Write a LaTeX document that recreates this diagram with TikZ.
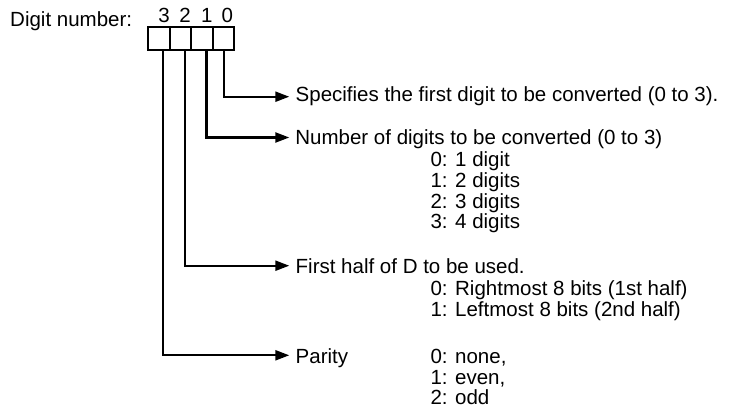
\documentclass[tikz,border=0pt]{standalone}
\usepackage{fontspec}
\setmainfont{Liberation Sans}
\usetikzlibrary{arrows.meta}
\begin{document}
\begin{tikzpicture}[x=1pt,y=-1pt,
  lbl/.style={font=\fontsize{20.5}{20.7}\selectfont, inner sep=0pt, anchor=base west},
  dig/.style={font=\fontsize{20.5}{20.7}\selectfont, inner sep=0pt, anchor=base},
  cell/.style={draw, line width=2pt, minimum width=21.5pt, minimum height=23.3pt, inner sep=0pt},
  conn/.style={line width=2.2pt, -{Triangle[length=14pt,width=10pt]}}]
\useasboundingbox (0,0) rectangle (736,409);
% title and digit numbers
\node[lbl] (title) at (10,26.3) {Digit number:};
\node[dig] (d3) at (164,22.7) {3};
\node[dig] (d2) at (185,22.7) {2};
\node[dig] (d1) at (206.7,22.7) {1};
\node[dig] (d0) at (227.3,22.7) {0};
% cells
\node[cell] (b3) at (159.05,38.35) {};
\node[cell] (b2) at (180.55,38.35) {};
\node[cell] (b1) at (202.05,38.35) {};
\node[cell] (b0) at (223.55,38.35) {};
% arrow ends
\coordinate (a0) at (289.3,96.7);
\coordinate (a1) at (289.3,137.5);
\coordinate (a2) at (289.3,265.7);
\coordinate (a3) at (289.3,355.3);
% connectors
\draw[conn] ([xshift=0.8pt]b0.south) |- (a0);
\draw[conn] ([xshift=4.5pt]b1.south) |- (a1);
\draw[conn] ([xshift=4.3pt]b2.south) |- (a2);
\draw[conn] ([xshift=3.6pt]b3.south) |- (a3);
% texts
\node[lbl] (t0) at (295.5,102) {Specifies the first digit to be converted (0 to 3).};
\node[lbl] (t1) at (295.2,145) {Number of digits to be converted (0 to 3)};
\node[lbl] (t1a) at (430.3,166.2) {0: 1 digit};
\node[lbl] (t1b) at (430.3,187.2) {1: 2 digits};
\node[lbl] (t1c) at (430.3,208.2) {2: 3 digits};
\node[lbl] (t1d) at (430.3,228.8) {3: 4 digits};
\node[lbl] (t2) at (295.5,273.3) {First half of D to be used.};
\node[lbl] (t2a) at (430.3,295.5) {0: Rightmost 8 bits (1st half)};
\node[lbl] (t2b) at (430.3,316.2) {1: Leftmost 8 bits (2nd half)};
\node[lbl] (t3) at (295.5,363.5) {Parity};
\node[lbl] (t3a) at (430.3,363.5) {0: none,};
\node[lbl] (t3b) at (430.3,384) {1: even,};
\node[lbl] (t3c) at (430.3,404.2) {2: odd};
\end{tikzpicture}
\end{document}
